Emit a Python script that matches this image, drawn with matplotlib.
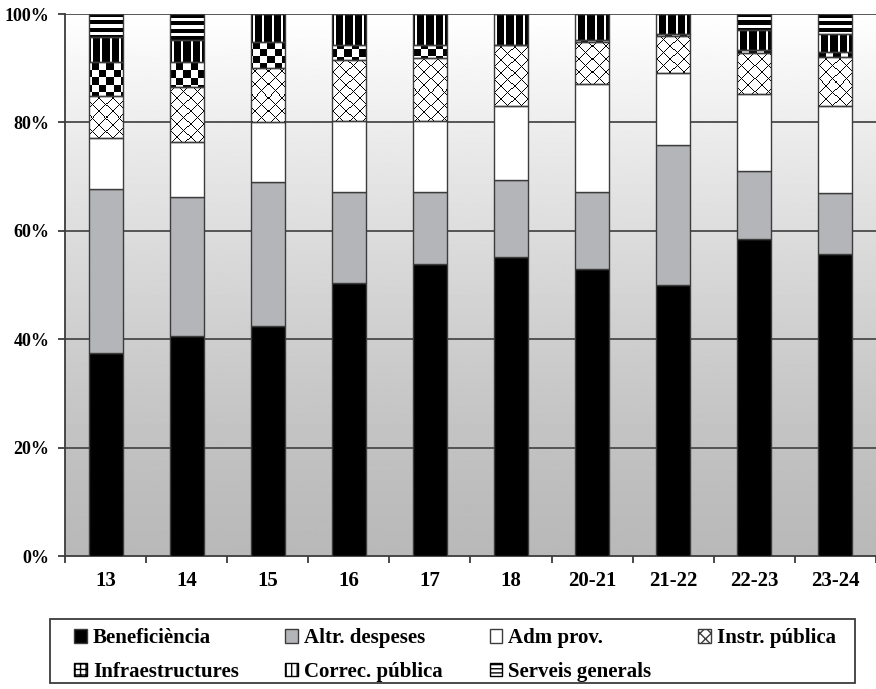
import numpy as np
import matplotlib
matplotlib.use("Agg")
import matplotlib.pyplot as plt
from matplotlib.patches import Patch, Rectangle

categories = ["13", "14", "15", "16", "17", "18", "20-21", "21-22", "22-23", "23-24"]
series_names = ["Beneficiència", "Altr. despeses", "Adm prov.", "Instr. pública",
                "Infraestructures", "Correc. pública", "Serveis generals"]

beneficiencia = [37.4, 40.6, 42.4, 50.3, 53.9, 55.2, 53.0, 50.0, 58.5, 55.8]
altres = [30.3, 25.6, 26.7, 16.8, 13.2, 14.2, 14.2, 25.8, 12.6, 11.2]
adm_prov = [9.4, 10.2, 10.9, 13.2, 13.2, 13.7, 19.9, 13.3, 14.1, 16.1]
instr_publica = [7.8, 10.1, 10.0, 11.2, 11.5, 11.2, 7.7, 6.8, 7.7, 8.9]
infraestructures = [6.3, 4.7, 4.9, 2.8, 2.5, 0.0, 0.4, 0.5, 0.5, 1.0]
correc_publica = [4.5, 4.1, 5.1, 5.7, 5.7, 5.7, 4.8, 3.6, 3.6, 3.4]
serveis = [4.3, 4.7, 0.0, 0.0, 0.0, 0.0, 0.0, 0.0, 3.0, 3.6]

series = [beneficiencia, altres, adm_prov, instr_publica, infraestructures,
          correc_publica, serveis]
# fill (solid colour) or texture kind per series
styles = [("#000000", None), ("#b4b5b8", None), ("#ffffff", None),
          (None, "diamond"), (None, "checker"), (None, "vstripe"), (None, "hstripe")]

plt.rcParams["font.family"] = ["Liberation Serif", "DejaVu Serif"]
plt.rcParams["font.weight"] = "bold"

fig = plt.figure(figsize=(8.76, 6.89), dpi=100)
ax = fig.add_axes([0.0742, 0.193, 0.9258, 0.7866])
ax.set_xlim(-0.5, len(categories) - 0.5)
ax.set_ylim(0, 100)


def texture(kind, h, w, ox, oy):
    i = np.arange(h)[:, None] + oy
    j = np.arange(w)[None, :] + ox
    if kind == "checker":
        t = ((i // 7 + j // 7) % 2).astype(float)
    elif kind == "vstripe":
        t = np.where((j % 9) < 2, 1.0, 0.0) * np.ones_like(i)
    elif kind == "hstripe":
        t = np.where((i % 7) < 4, 0.0, 1.0) * np.ones_like(j)
    else:  # diamond
        t = np.where(((i + j) % 13 == 0) | ((i - j) % 13 == 0), 0.0, 1.0)
    return t


# background gradient
grad = np.linspace(1, 0, 400)[:, None]
grad = 185 / 255 + (70 / 255) * grad ** 1.3
ax.imshow(grad, extent=(-0.5, len(categories) - 0.5, 0, 100), cmap="gray",
          vmin=0, vmax=1, aspect="auto", zorder=0, interpolation="bilinear")

for yv in range(20, 101, 20):
    ax.axhline(yv, color="#4a4a4a", lw=1.3, zorder=1)

x = np.arange(len(categories))
bottom = np.zeros(len(categories))
width = 0.42
for vals, (fc, kind) in zip(series, styles):
    vals = np.array(vals)
    bars = ax.bar(x, vals, width, bottom=bottom,
                  color=fc if fc else "none",
                  edgecolor="#3c3c3c", linewidth=1.0, zorder=3)
    if kind:
        for p in bars:
            if p.get_height() <= 0:
                continue
            bb = p.get_window_extent()
            w = max(int(round(bb.width)), 1)
            h = max(int(round(bb.height)), 1)
            tex = texture(kind, h, w, int(bb.x0), int(689 - bb.y1))
            x0 = p.get_x()
            ax.imshow(tex, extent=(x0, x0 + p.get_width(), p.get_y(),
                                   p.get_y() + p.get_height()),
                      cmap="gray", vmin=0, vmax=1, aspect="auto",
                      interpolation="nearest", zorder=2.5)
    bottom += vals

ax.set_xlim(-0.5, len(categories) - 0.5)
ax.set_ylim(0, 100)

ax.set_yticks(range(0, 101, 20))
ax.set_yticklabels([f"{v}%" for v in range(0, 101, 20)], fontsize=13,
                   fontweight="bold")
ax.set_xticks(x)
ax.set_xticklabels(categories, fontsize=15, fontweight="bold")
ax.set_xticks(np.arange(-0.5, len(categories)), minor=True)
ax.tick_params(axis="x", which="major", length=0, pad=11)
ax.tick_params(axis="x", which="minor", length=5, width=1.3, color="#3c3c3c",
               direction="out")
ax.tick_params(axis="y", length=5, width=1.3, color="#3c3c3c", pad=6)

for s in ["top", "right"]:
    ax.spines[s].set_visible(False)
for s in ["left", "bottom"]:
    ax.spines[s].set_color("#3c3c3c")
    ax.spines[s].set_linewidth(1.3)

handles = [Patch(facecolor="#000000", edgecolor="#3c3c3c"),
           Patch(facecolor="#b4b5b8", edgecolor="#3c3c3c"),
           Patch(facecolor="#ffffff", edgecolor="#3c3c3c"),
           Patch(facecolor="#ffffff", edgecolor="#3c3c3c", hatch="xxx"),
           Patch(facecolor="#ffffff", edgecolor="#000000", hatch="+++"),
           Patch(facecolor="#ffffff", edgecolor="#000000", hatch="|||"),
           Patch(facecolor="#ffffff", edgecolor="#000000", hatch="----")]
# legend fills column by column; reorder so it reads row by row
order = [0, 4, 1, 5, 2, 6, 3]
leg = fig.legend([handles[k] for k in order], [series_names[k] for k in order],
                 loc="lower left",
                 bbox_to_anchor=(70 / 876, 3 / 689, 770 / 876, 62 / 689),
                 mode="expand", ncol=4, frameon=False,
                 prop={"size": 15, "weight": "bold"},
                 handlelength=0.6, handleheight=0.6, handletextpad=0.3,
                 borderpad=0.2, labelspacing=0.65, borderaxespad=0)
# legend box with wider side padding than the legend frame allows
fig.patches.append(Rectangle((50 / 876, 6 / 689), 805 / 876, 64 / 689,
                             transform=fig.transFigure, fill=False,
                             edgecolor="#3c3c3c", linewidth=1.3))

fig.savefig("out.png", dpi=100)
